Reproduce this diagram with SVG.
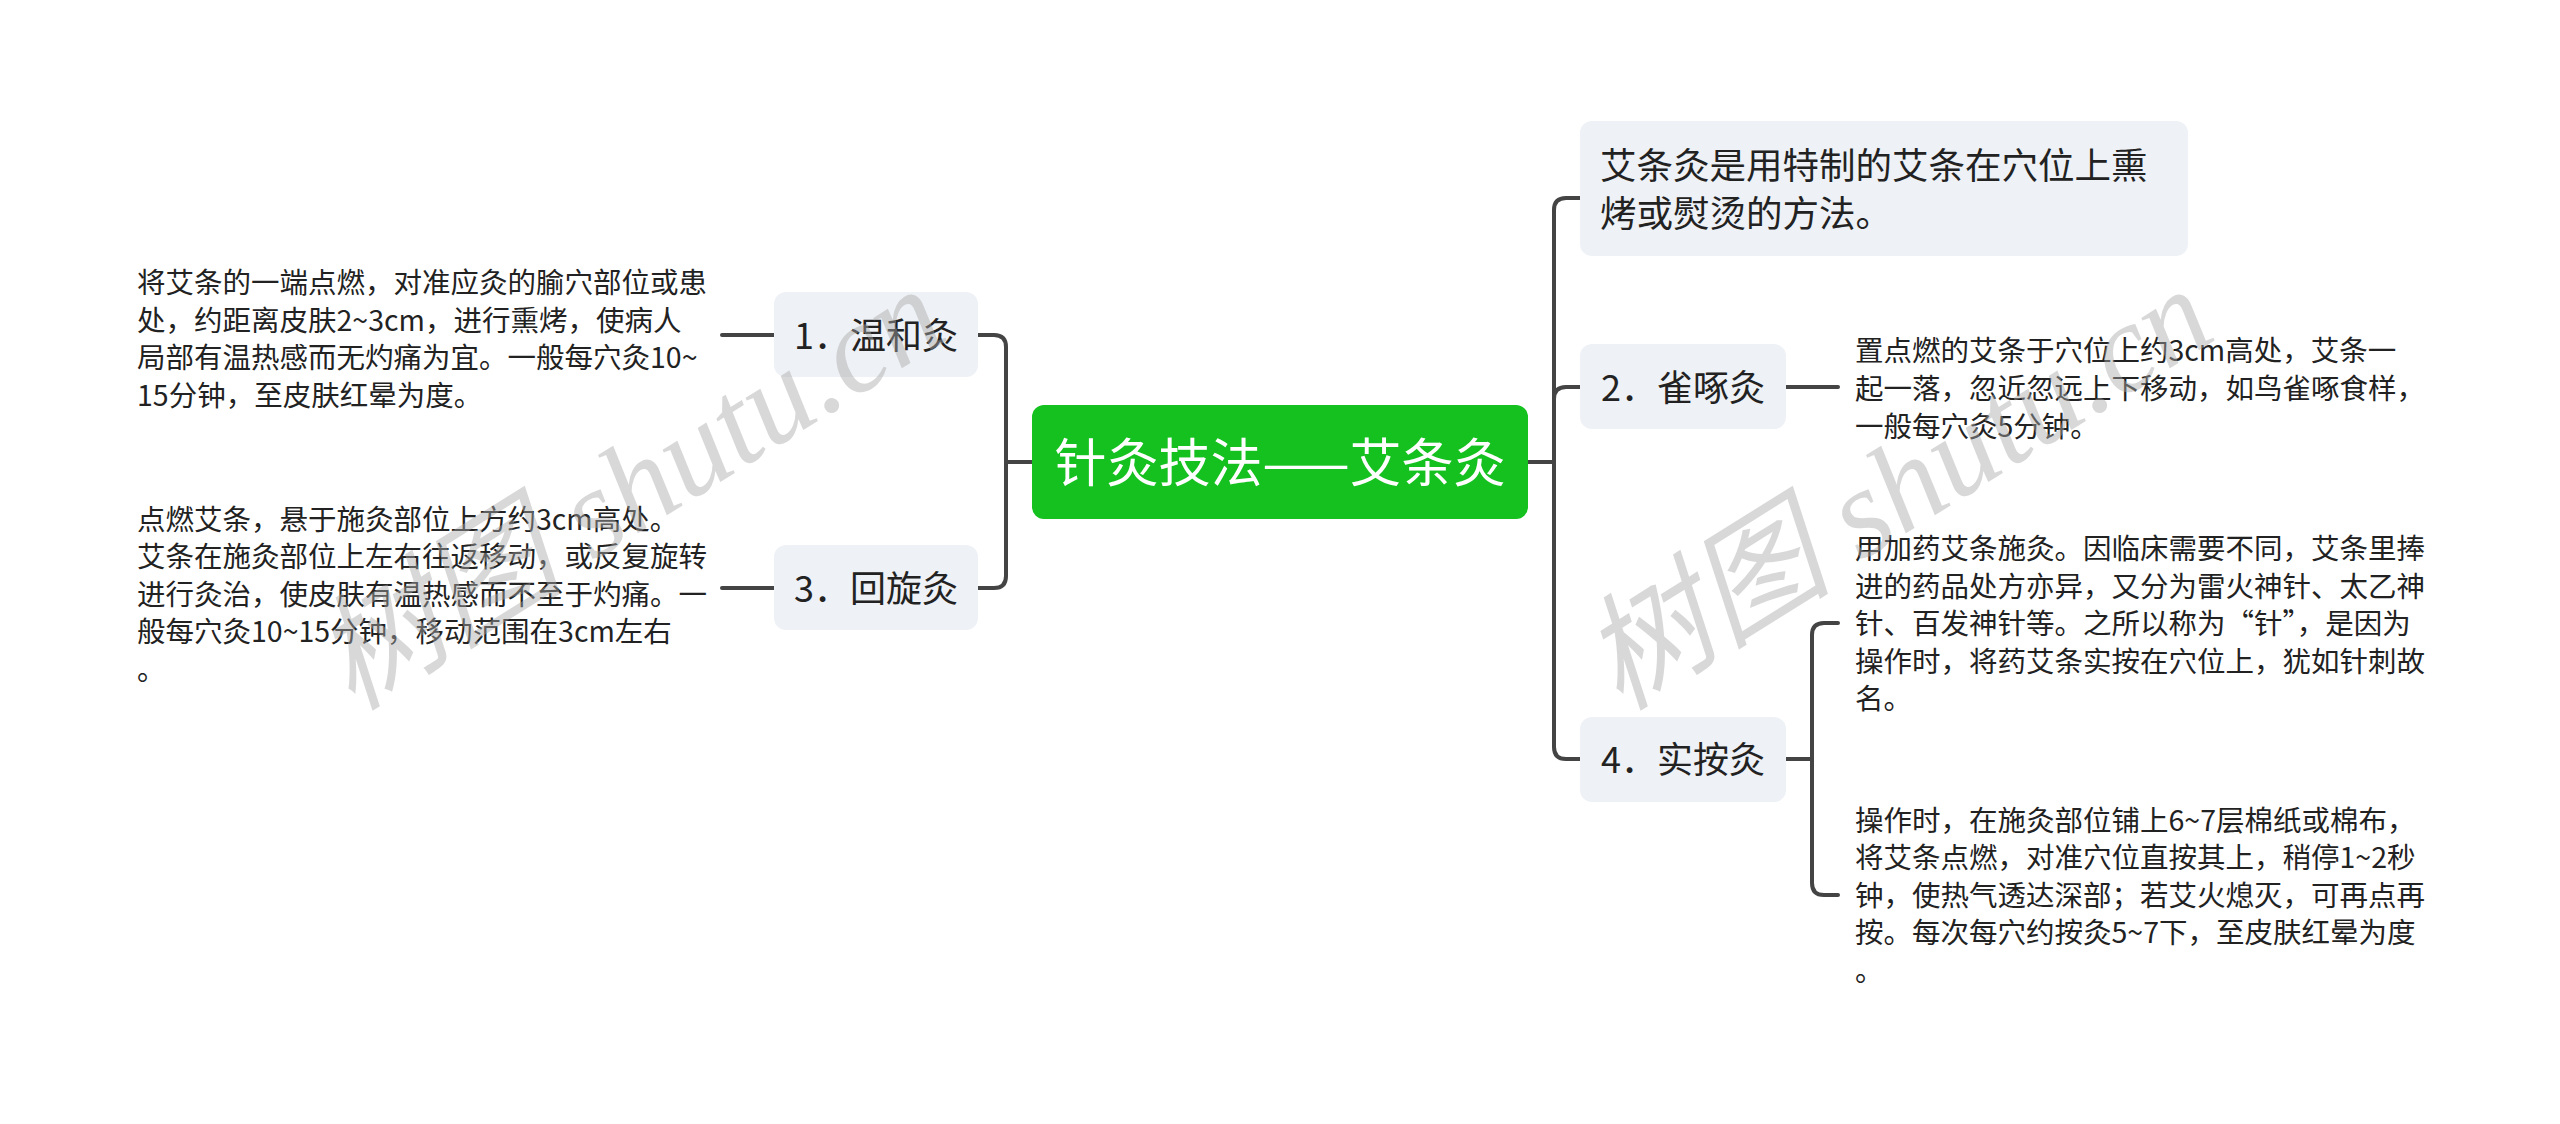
<svg xmlns="http://www.w3.org/2000/svg" width="2560" height="1124" viewBox="0 0 2560 1124">
<style>
.bg{fill:#ffffff}
.node{fill:#eef1f5}
.root{fill:#14c11f}
.t{font-family:"Noto Sans CJK SC","Noto Sans",sans-serif;fill:#222222}
.lbl{font-size:36px;text-anchor:middle}
.big{font-size:36.5px}
.desc{font-size:28.5px}
.rt{font-family:"Noto Sans CJK SC","Noto Sans",sans-serif;font-size:52px;fill:#ffffff;text-anchor:middle}
.c{fill:none;stroke:#444444;stroke-width:4;stroke-linecap:round;stroke-linejoin:round}
.wm{font-family:"Liberation Serif","Noto Sans CJK SC",serif;font-style:italic;font-size:126px;fill:#a8a8a8;fill-opacity:0.45}
</style>
<rect class="bg" x="0" y="0" width="2560" height="1124"/>
<g id="connectors">
<path class="c" d="M1032 462 H1006 V347 Q1006 335 994 335 H978"/>
<path class="c" d="M1032 462 H1006 V576 Q1006 588 994 588 H978"/>
<path class="c" d="M774 335 H722"/>
<path class="c" d="M774 588 H722"/>
<path class="c" d="M1528 462 H1554 V210 Q1554 198 1566 198 H1580"/>
<path class="c" d="M1528 462 H1554 V399 Q1554 387 1566 387 H1580"/>
<path class="c" d="M1528 462 H1554 V747 Q1554 759 1566 759 H1580"/>
<path class="c" d="M1786 387 H1838"/>
<path class="c" d="M1786 759 H1812 V635 Q1812 623 1824 623 H1838"/>
<path class="c" d="M1812 759 V883 Q1812 895 1824 895 H1838"/>
</g>
<g id="root">
<rect class="root" x="1032" y="405" width="496" height="114" rx="12"/>
<text class="rt" x="1280" y="482">针灸技法——艾条灸</text>
</g>
<g id="n1">
<rect class="node" x="774" y="292" width="204" height="85" rx="12"/>
<text class="t lbl" x="876" y="349">1．温和灸</text>
</g>
<g id="n1d">
<text class="t desc" x="137" y="293">将艾条的一端点燃，对准应灸的腧穴部位或患</text>
<text class="t desc" x="137" y="331">处，约距离皮肤2~3cm，进行熏烤，使病人</text>
<text class="t desc" x="137" y="368">局部有温热感而无灼痛为宜。一般每穴灸10~</text>
<text class="t desc" x="137" y="406">15分钟，至皮肤红晕为度。</text>
</g>
<g id="n3">
<rect class="node" x="774" y="545" width="204" height="85" rx="12"/>
<text class="t lbl" x="876" y="602">3．回旋灸</text>
</g>
<g id="n3d">
<text class="t desc" x="137" y="530">点燃艾条，悬于施灸部位上方约3cm高处。</text>
<text class="t desc" x="137" y="567">艾条在施灸部位上左右往返移动，或反复旋转</text>
<text class="t desc" x="137" y="605">进行灸治，使皮肤有温热感而不至于灼痛。一</text>
<text class="t desc" x="137" y="642">般每穴灸10~15分钟，移动范围在3cm左右</text>
<text class="t desc" x="137" y="680">。</text>
</g>
<g id="nA">
<rect class="node" x="1580" y="121" width="608" height="135" rx="12"/>
<text class="t big" x="1600" y="179">艾条灸是用特制的艾条在穴位上熏</text>
<text class="t big" x="1600" y="227">烤或熨烫的方法。</text>
</g>
<g id="n2">
<rect class="node" x="1580" y="344" width="206" height="85" rx="12"/>
<text class="t lbl" x="1683" y="401">2．雀啄灸</text>
</g>
<g id="n2d">
<text class="t desc" x="1855" y="361">置点燃的艾条于穴位上约3cm高处，艾条一</text>
<text class="t desc" x="1855" y="399">起一落，忽近忽远上下移动，如鸟雀啄食样，</text>
<text class="t desc" x="1855" y="437">一般每穴灸5分钟。</text>
</g>
<g id="n4">
<rect class="node" x="1580" y="717" width="206" height="85" rx="12"/>
<text class="t lbl" x="1683" y="773">4．实按灸</text>
</g>
<g id="n4a">
<text class="t desc" x="1855" y="559">用加药艾条施灸。因临床需要不同，艾条里捧</text>
<text class="t desc" x="1855" y="597">进的药品处方亦异，又分为雷火神针、太乙神</text>
<text class="t desc" x="1855" y="634">针、百发神针等。之所以称为“针”，是因为</text>
<text class="t desc" x="1855" y="672">操作时，将药艾条实按在穴位上，犹如针刺故</text>
<text class="t desc" x="1855" y="709">名。</text>
</g>
<g id="n4b">
<text class="t desc" x="1855" y="831">操作时，在施灸部位铺上6~7层棉纸或棉布，</text>
<text class="t desc" x="1855" y="868">将艾条点燃，对准穴位直按其上，稍停1~2秒</text>
<text class="t desc" x="1855" y="906">钟，使热气透达深部；若艾火熄灭，可再点再</text>
<text class="t desc" x="1855" y="943">按。每次每穴约按灸5~7下，至皮肤红晕为度</text>
<text class="t desc" x="1855" y="981">。</text>
</g>
<g id="watermark">
<text class="wm" transform="translate(352 712) rotate(-32)">树图 shutu.cn</text>
<text class="wm" transform="translate(1620 712) rotate(-32)">树图 shutu.cn</text>
</g>
</svg>
